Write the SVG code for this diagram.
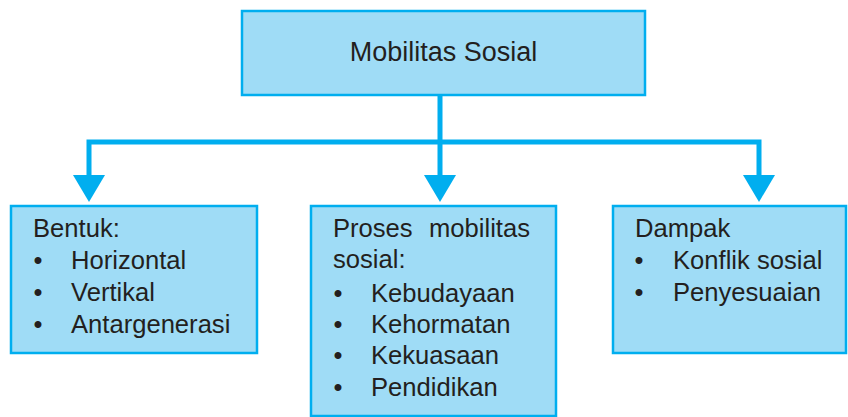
<svg xmlns="http://www.w3.org/2000/svg" width="848" height="417" viewBox="0 0 848 417">
<style>
.box{fill:#9fdcf6;stroke:#00aeef;stroke-width:2.5}
.t{font-family:"Liberation Sans",Arial,sans-serif;font-size:25.6px;fill:#231f20}
.b{font-family:"Liberation Sans",Arial,sans-serif;font-size:25.6px;fill:#231f20;text-anchor:middle}
.ln{fill:none;stroke:#00aeef;stroke-width:5;stroke-linejoin:miter}
.ah{fill:#00aeef}
</style>
<rect width="848" height="417" fill="#ffffff"/>
<g id="connectors">
<path class="ln" d="M440,95 V142 M89,176 V142 H759 V176 M440,142 V176"/>
<polygon class="ah" points="73,175 105,175 89,202"/>
<polygon class="ah" points="424,175 456,175 440,202"/>
<polygon class="ah" points="743,175 775,175 759,202"/>
</g>
<g id="mobilitas-sosial">
<rect class="box" x="242" y="11" width="403" height="84"/>
<text class="t" x="443.5" y="61" text-anchor="middle" style="font-size:27px">Mobilitas Sosial</text>
</g>
<g id="bentuk">
<rect class="box" x="11" y="206" width="246" height="147"/>
<text class="t" x="33" y="237">Bentuk:</text>
<text class="b" x="38" y="269">•</text><text class="t" x="71" y="269">Horizontal</text>
<text class="b" x="38" y="301">•</text><text class="t" x="71" y="301">Vertikal</text>
<text class="b" x="38" y="333">•</text><text class="t" x="71" y="333">Antargenerasi</text>
</g>
<g id="proses">
<rect class="box" x="311" y="206" width="245" height="210"/>
<text class="t" x="333" y="237">Proses</text><text class="t" x="530" y="237" text-anchor="end">mobilitas</text>
<text class="t" x="333" y="268">sosial:</text>
<text class="b" x="338" y="302">•</text><text class="t" x="371" y="302">Kebudayaan</text>
<text class="b" x="338" y="333">•</text><text class="t" x="371" y="333">Kehormatan</text>
<text class="b" x="338" y="364">•</text><text class="t" x="371" y="364">Kekuasaan</text>
<text class="b" x="338" y="396">•</text><text class="t" x="371" y="396">Pendidikan</text>
</g>
<g id="dampak">
<rect class="box" x="613" y="206" width="233" height="147"/>
<text class="t" x="635" y="237">Dampak</text>
<text class="b" x="639" y="269">•</text><text class="t" x="673" y="269">Konflik sosial</text>
<text class="b" x="639" y="301">•</text><text class="t" x="673" y="301">Penyesuaian</text>
</g>
</svg>
